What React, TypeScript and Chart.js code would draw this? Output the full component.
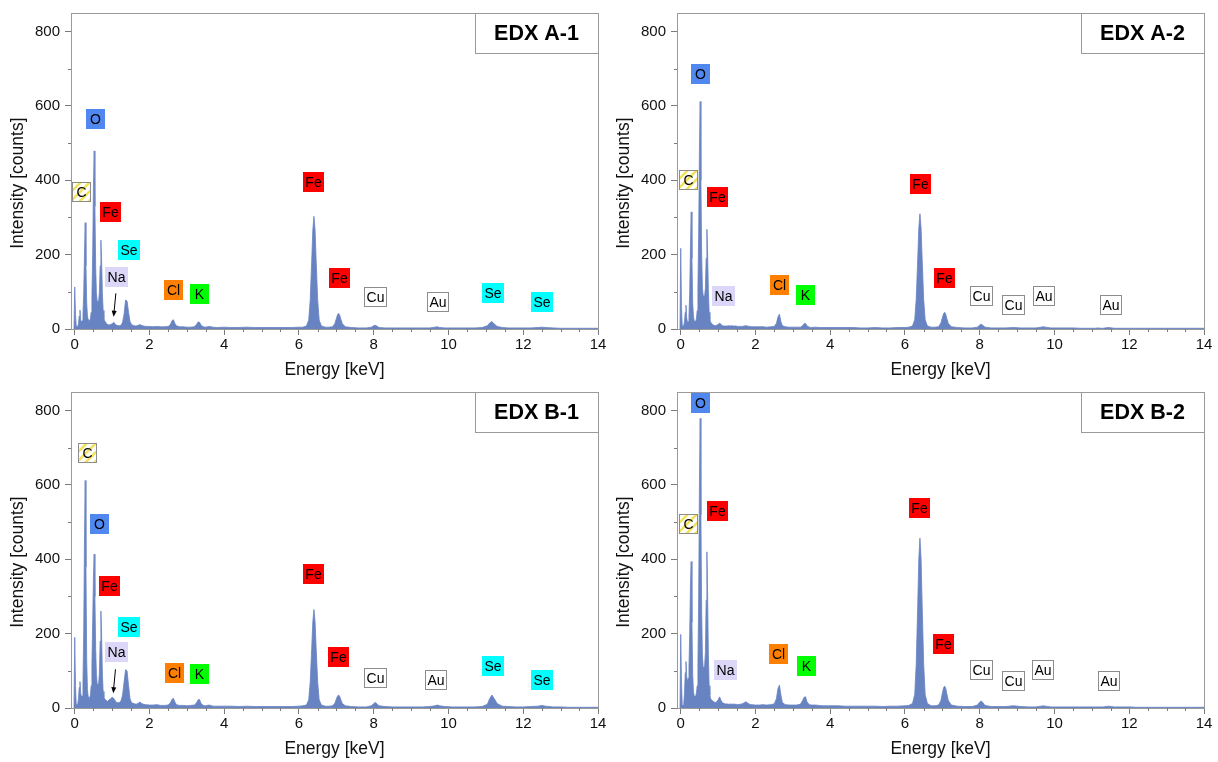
import React, { useEffect, useRef } from "react";
import { Chart, registerables } from "chart.js";

Chart.register(...registerables);

const FONT = '"Liberation Sans", Arial, Helvetica, sans-serif';

// Shared energy grid (keV)
const energyKeV = [
  -0.02, 0, 0.02, 0.04, 0.06, 0.08, 0.1, 0.12, 0.14, 0.16, 0.18,
  0.2, 0.22, 0.24, 0.26, 0.28, 0.3, 0.32, 0.34, 0.36, 0.38, 0.4,
  0.42, 0.44, 0.46, 0.48, 0.5, 0.52, 0.54, 0.56, 0.58, 0.6,
  0.62, 0.64, 0.66, 0.68, 0.7, 0.72, 0.74, 0.76, 0.78, 0.8,
  0.84, 0.88, 0.92, 0.96, 1.0, 1.04, 1.08, 1.12, 1.16, 1.2,
  1.24, 1.28, 1.32, 1.36, 1.4, 1.44, 1.48, 1.52, 1.58, 1.64,
  1.7, 1.74, 1.78, 1.84, 1.9, 2.0, 2.1, 2.2, 2.3, 2.4,
  2.5, 2.56, 2.6, 2.64, 2.68, 2.72, 2.8, 2.9, 3.0, 3.1,
  3.2, 3.26, 3.3, 3.34, 3.38, 3.44, 3.5, 3.6, 3.7, 3.8,
  4.0, 4.2, 4.4, 4.6, 4.8, 5.0, 5.2, 5.4, 5.6, 5.8, 6.0, 6.1,
  6.2, 6.26, 6.3, 6.34, 6.37, 6.4, 6.43, 6.46, 6.5, 6.54, 6.6,
  6.7, 6.8, 6.9, 6.96, 7.0, 7.03, 7.06, 7.09, 7.12, 7.16, 7.24,
  7.4, 7.6, 7.8, 7.94, 8.0, 8.04, 8.08, 8.14, 8.3, 8.5, 8.7,
  8.9, 9.1, 9.3, 9.5, 9.64, 9.7, 9.76, 9.9, 10.1, 10.3, 10.5, 10.7, 10.9,
  11.04, 11.1, 11.16, 11.22, 11.3, 11.44, 11.6, 11.8, 12.0, 12.2, 12.4,
  12.5, 12.6, 12.8, 13.0, 13.2, 13.4, 13.6, 13.8, 14.0,
];

const countsA1 = [
  0, 113, 40, 8, 4, 6, 15, 35, 51, 25, 18,
  22, 40, 95, 200, 286, 170, 70, 35, 25, 20, 22,
  28, 45, 90, 200, 380, 479, 330, 170, 95, 75,
  70, 75, 100, 170, 239, 180, 95, 50, 30, 22,
  16, 12, 11, 12, 14, 18, 14, 10, 9, 9,
  10, 18, 40, 78, 75, 45, 20, 12, 9, 8,
  10, 12, 10, 8, 7, 7, 6, 7, 6, 6,
  7, 12, 22, 25, 15, 9, 6, 6, 5, 5,
  6, 12, 19, 18, 10, 6, 5, 7, 5, 4,
  5, 4, 4, 5, 4, 4, 4, 4, 4, 4, 5, 5,
  8, 24, 78, 182, 266, 303, 266, 182, 78, 24, 8,
  5, 5, 6, 15, 28, 38, 42, 37, 26, 14, 6,
  4, 3, 3, 5, 9, 10, 8, 4, 3, 3, 3,
  3, 3, 3, 3, 5, 6, 4, 3, 3, 3, 3, 3, 4,
  9, 16, 20, 14, 7, 4, 3, 3, 3, 3, 4,
  5, 4, 3, 2, 2, 2, 2, 2, 2,
];

const countsA2 = [
  0, 217, 60, 10, 5, 8, 20, 45, 64, 30, 18,
  20, 35, 100, 220, 315, 190, 70, 35, 22, 18, 20,
  28, 50, 110, 260, 480, 612, 400, 200, 110, 90,
  85, 90, 110, 190, 268, 200, 100, 45, 25, 18,
  14, 10, 9, 10, 12, 16, 12, 9, 8, 8,
  8, 9, 8, 9, 8, 8, 8, 7, 7, 7,
  8, 9, 8, 7, 6, 6, 6, 6, 5, 6,
  7, 15, 32, 40, 20, 9, 6, 5, 5, 5,
  5, 9, 14, 15, 8, 5, 4, 5, 4, 4,
  4, 4, 4, 4, 3, 3, 4, 3, 3, 4, 4, 5,
  8, 25, 80, 187, 272, 310, 272, 187, 80, 25, 8,
  5, 5, 6, 16, 30, 41, 45, 40, 28, 15, 6,
  4, 3, 3, 5, 11, 13, 10, 5, 3, 3, 3,
  4, 3, 3, 3, 5, 6, 5, 3, 3, 3, 3, 2, 2,
  2, 2, 3, 2, 2, 4, 2, 2, 2, 2, 2,
  2, 2, 2, 2, 2, 2, 2, 2, 2,
];

const countsB1 = [
  0, 190, 60, 10, 6, 10, 25, 55, 71, 40, 30,
  32, 70, 200, 450, 612, 380, 130, 50, 30, 25, 27,
  35, 60, 120, 230, 350, 414, 300, 160, 90, 65,
  60, 65, 95, 180, 261, 190, 90, 45, 30, 25,
  20, 18, 22, 25, 29, 26, 20, 15, 14, 15,
  20, 35, 70, 103, 100, 60, 25, 14, 12, 10,
  13, 16, 13, 10, 9, 8, 8, 9, 7, 7,
  8, 14, 23, 26, 16, 9, 7, 7, 6, 7,
  8, 14, 22, 23, 12, 7, 6, 8, 5, 5,
  5, 5, 4, 5, 4, 4, 4, 4, 4, 4, 5, 6,
  8, 22, 70, 160, 232, 265, 232, 160, 70, 22, 8,
  5, 5, 6, 13, 24, 32, 35, 31, 22, 12, 6,
  4, 3, 3, 6, 12, 15, 12, 6, 4, 3, 3,
  3, 3, 3, 4, 6, 8, 6, 4, 3, 3, 3, 3, 4,
  10, 25, 35, 26, 12, 5, 4, 3, 3, 4, 5,
  7, 5, 3, 3, 2, 2, 2, 2, 2,
];

const countsB2 = [
  0, 198, 70, 8, 5, 10, 40, 95, 125, 85, 72,
  80, 110, 200, 330, 394, 230, 90, 45, 32, 30, 33,
  40, 60, 120, 300, 600, 779, 520, 260, 140, 110,
  105, 115, 150, 290, 420, 300, 140, 60, 35, 25,
  20, 17, 15, 16, 22, 30, 20, 14, 12, 11,
  11, 10, 11, 10, 11, 10, 10, 9, 10, 11,
  14, 17, 14, 10, 9, 8, 8, 9, 8, 9,
  11, 25, 52, 62, 35, 14, 9, 8, 8, 8,
  10, 20, 29, 30, 16, 9, 8, 8, 7, 6,
  6, 6, 5, 5, 5, 5, 5, 4, 5, 5, 6, 7,
  12, 36, 118, 275, 402, 457, 402, 275, 118, 36, 12,
  6, 6, 8, 20, 40, 54, 59, 53, 38, 20, 8,
  5, 4, 4, 8, 16, 19, 15, 7, 4, 4, 4,
  6, 4, 3, 3, 5, 6, 5, 3, 3, 3, 3, 3, 3,
  3, 3, 3, 3, 3, 5, 3, 3, 3, 2, 2,
  2, 2, 2, 2, 2, 2, 2, 2, 2,
];

const xTickValues = [0, 2, 4, 6, 8, 10, 12, 14];
const yTickValues = [0, 200, 400, 600, 800];

type Label = { text: string; x: number; y: number };
type Arrow = { x1: number; y1: number; x2: number; y2: number } | null;

// element labels: text, energy (keV), counts
const labelsA1: Label[] = [
  { text: "O", x: 0.55, y: 566 },
  { text: "C", x: 0.18, y: 368 },
  { text: "Fe", x: 0.95, y: 315 },
  { text: "Se", x: 1.46, y: 212 },
  { text: "Na", x: 1.13, y: 140 },
  { text: "Cl", x: 2.63, y: 105 },
  { text: "K", x: 3.33, y: 95 },
  { text: "Fe", x: 6.4, y: 395 },
  { text: "Fe", x: 7.09, y: 137 },
  { text: "Cu", x: 8.06, y: 87 },
  { text: "Au", x: 9.73, y: 73 },
  { text: "Se", x: 11.19, y: 97 },
  { text: "Se", x: 12.51, y: 73 },
];
const arrowA1: Arrow = { x1: 1.1, y1: 96, x2: 1.04, y2: 33 };

const labelsA2: Label[] = [
  { text: "O", x: 0.52, y: 685 },
  { text: "C", x: 0.2, y: 401 },
  { text: "Fe", x: 0.98, y: 355 },
  { text: "Na", x: 1.14, y: 89 },
  { text: "Cl", x: 2.65, y: 119 },
  { text: "K", x: 3.35, y: 92 },
  { text: "Fe", x: 6.41, y: 390 },
  { text: "Fe", x: 7.06, y: 136 },
  { text: "Cu", x: 8.06, y: 90 },
  { text: "Cu", x: 8.91, y: 64 },
  { text: "Au", x: 9.72, y: 90 },
  { text: "Au", x: 11.51, y: 64 },
];
const arrowA2: Arrow = null;

const labelsB1: Label[] = [
  { text: "C", x: 0.33, y: 686 },
  { text: "O", x: 0.67, y: 494 },
  { text: "Fe", x: 0.93, y: 327 },
  { text: "Se", x: 1.46, y: 219 },
  { text: "Na", x: 1.12, y: 150 },
  { text: "Cl", x: 2.66, y: 93 },
  { text: "K", x: 3.34, y: 91 },
  { text: "Fe", x: 6.4, y: 360 },
  { text: "Fe", x: 7.06, y: 136 },
  { text: "Cu", x: 8.05, y: 82 },
  { text: "Au", x: 9.67, y: 74 },
  { text: "Se", x: 11.19, y: 112 },
  { text: "Se", x: 12.49, y: 74 },
];
const arrowB1: Arrow = { x1: 1.09, y1: 104, x2: 1.03, y2: 40 };

const labelsB2: Label[] = [
  { text: "O", x: 0.53, y: 820 },
  { text: "Fe", x: 0.98, y: 531 },
  { text: "C", x: 0.2, y: 494 },
  { text: "Na", x: 1.19, y: 103 },
  { text: "Cl", x: 2.62, y: 144 },
  { text: "K", x: 3.36, y: 113 },
  { text: "Fe", x: 6.39, y: 539 },
  { text: "Fe", x: 7.04, y: 173 },
  { text: "Cu", x: 8.04, y: 101 },
  { text: "Cu", x: 8.91, y: 73 },
  { text: "Au", x: 9.69, y: 102 },
  { text: "Au", x: 11.47, y: 73 },
];
const arrowB2: Arrow = null;

const LABEL_FILL: Record<string, string> = {
  O: "#5088f0",
  Fe: "#ff0000",
  Se: "#00ffff",
  Na: "#dcd6f8",
  Cl: "#ff8000",
  K: "#00ff00",
  C: "hatch",
  Cu: "#ffffff",
  Au: "#ffffff",
};

const SPECTRUM_COLOR = "#6883c2";
const FRAME_COLOR = "#9a9a9a";
const TICK_COLOR = "#7a7a7a";

type PanelDef = {
  title: string;
  counts: number[];
  labels: Label[];
  arrow: Arrow;
  left: number;
  top: number;
};

const PANELS: PanelDef[] = [
  { title: "EDX A-1", counts: countsA1, labels: labelsA1, arrow: arrowA1, left: 0, top: 0 },
  { title: "EDX A-2", counts: countsA2, labels: labelsA2, arrow: arrowA2, left: 606, top: 0 },
  { title: "EDX B-1", counts: countsB1, labels: labelsB1, arrow: arrowB1, left: 0, top: 379 },
  { title: "EDX B-2", counts: countsB2, labels: labelsB2, arrow: arrowB2, left: 606, top: 379 },
];

function makeDecorPlugin(panel: PanelDef) {
  return {
    id: "edxDecor",
    afterDatasetsDraw(chart: any) {
      const { ctx, chartArea: a, scales } = chart;
      const xs = scales.x;
      const ys = scales.y;
      ctx.save();

      // labels
      ctx.font = `14px ${FONT}`;
      for (const lb of panel.labels) {
        const cx = xs.getPixelForValue(lb.x);
        const cy = ys.getPixelForValue(lb.y);
        const tw = ctx.measureText(lb.text).width;
        const w = Math.round(Math.max(tw + 5, 19));
        const h = 20;
        const x0 = Math.round(cx - w / 2);
        const y0 = Math.round(cy - h / 2);
        const fill = LABEL_FILL[lb.text] || "#ffffff";
        if (fill === "hatch") {
          ctx.fillStyle = "#ffffff";
          ctx.fillRect(x0, y0, w, h);
          ctx.save();
          ctx.beginPath();
          ctx.rect(x0, y0, w, h);
          ctx.clip();
          ctx.strokeStyle = "#f2e35a";
          ctx.lineWidth = 2.5;
          for (let k = -h; k < w + h; k += 9) {
            ctx.beginPath();
            ctx.moveTo(x0 + k, y0 + h);
            ctx.lineTo(x0 + k + h, y0);
            ctx.stroke();
          }
          ctx.restore();
          ctx.strokeStyle = "#8c8c8c";
          ctx.lineWidth = 1;
          ctx.strokeRect(x0 + 0.5, y0 + 0.5, w - 1, h - 1);
        } else {
          ctx.fillStyle = fill;
          ctx.fillRect(x0, y0, w, h);
          if (fill === "#ffffff") {
            ctx.strokeStyle = "#8c8c8c";
            ctx.lineWidth = 1;
            ctx.strokeRect(x0 + 0.5, y0 + 0.5, w - 1, h - 1);
          }
        }
        ctx.fillStyle = "#000000";
        ctx.textAlign = "center";
        ctx.textBaseline = "middle";
        ctx.fillText(lb.text, x0 + w / 2, y0 + h / 2 + 1);
      }

      // arrow
      if (panel.arrow) {
        const p1x = xs.getPixelForValue(panel.arrow.x1);
        const p1y = ys.getPixelForValue(panel.arrow.y1);
        const p2x = xs.getPixelForValue(panel.arrow.x2);
        const p2y = ys.getPixelForValue(panel.arrow.y2);
        const ang = Math.atan2(p2y - p1y, p2x - p1x);
        const hl = 6;
        ctx.strokeStyle = "#000";
        ctx.lineWidth = 1;
        ctx.beginPath();
        ctx.moveTo(p1x, p1y);
        ctx.lineTo(p2x - Math.cos(ang) * hl * 0.8, p2y - Math.sin(ang) * hl * 0.8);
        ctx.stroke();
        ctx.fillStyle = "#000";
        ctx.beginPath();
        ctx.moveTo(p2x, p2y);
        ctx.lineTo(p2x - Math.cos(ang) * hl + Math.sin(ang) * 2.5, p2y - Math.sin(ang) * hl - Math.cos(ang) * 2.5);
        ctx.lineTo(p2x - Math.cos(ang) * hl - Math.sin(ang) * 2.5, p2y - Math.sin(ang) * hl + Math.cos(ang) * 2.5);
        ctx.closePath();
        ctx.fill();
      }

      // minor ticks
      ctx.strokeStyle = TICK_COLOR;
      ctx.lineWidth = 1;
      ctx.beginPath();
      for (let v = 0.5; v < 14; v += 0.5) {
        if (Math.abs(v / 2 - Math.round(v / 2)) < 1e-6) continue;
        const px = Math.round(xs.getPixelForValue(v)) + 0.5;
        ctx.moveTo(px, a.bottom);
        ctx.lineTo(px, a.bottom + 3);
      }
      for (let v = 100; v < 850; v += 200) {
        const py = Math.round(ys.getPixelForValue(v)) + 0.5;
        ctx.moveTo(a.left - 3, py);
        ctx.lineTo(a.left, py);
      }
      ctx.stroke();

      // frame (top, right)
      ctx.strokeStyle = FRAME_COLOR;
      ctx.beginPath();
      ctx.moveTo(Math.round(a.left) + 0.5, Math.round(a.top) + 0.5);
      ctx.lineTo(Math.round(a.right) + 0.5, Math.round(a.top) + 0.5);
      ctx.lineTo(Math.round(a.right) + 0.5, Math.round(a.bottom) + 0.5);
      ctx.stroke();

      // title box
      const bw = 123;
      const bh = 40;
      const bx = Math.round(a.right) - bw;
      const by = Math.round(a.top);
      ctx.fillStyle = "#ffffff";
      ctx.fillRect(bx, by, bw, bh);
      ctx.strokeStyle = FRAME_COLOR;
      ctx.strokeRect(bx + 0.5, by + 0.5, bw, bh);
      ctx.fillStyle = "#000000";
      ctx.font = `bold 21.5px ${FONT}`;
      ctx.textAlign = "center";
      ctx.textBaseline = "middle";
      ctx.fillText(panel.title, bx + bw / 2, by + bh / 2 + 1);

      ctx.restore();
    },
  };
}

function Panel({ panel }: { panel: PanelDef }) {
  const ref = useRef<HTMLCanvasElement | null>(null);
  useEffect(() => {
    if (!ref.current) return;
    const points = energyKeV.map((e, i) => ({ x: e, y: panel.counts[i] }));
    const chart = new Chart(ref.current, {
      type: "line",
      data: {
        datasets: [
          {
            data: points,
            fill: "origin",
            borderColor: SPECTRUM_COLOR,
            backgroundColor: SPECTRUM_COLOR,
            borderWidth: 0.8,
            pointRadius: 0,
            tension: 0,
          },
        ],
      },
      options: {
        animation: false,
        responsive: false,
        devicePixelRatio: 1,
        events: [],
        layout: { padding: { left: 0, right: 8, top: 13, bottom: 0 } },
        plugins: {
          legend: { display: false },
          tooltip: { enabled: false },
          title: { display: false },
        },
        scales: {
          x: {
            type: "linear",
            min: -0.1,
            max: 14,
            afterBuildTicks: (s: any) => {
              s.ticks = xTickValues.map((v) => ({ value: v }));
            },
            ticks: {
              autoSkip: false,
              maxRotation: 0,
              padding: 1,
              color: "#111",
              font: { family: FONT, size: 15 },
            },
            grid: {
              drawOnChartArea: false,
              drawTicks: true,
              tickLength: 6,
              tickColor: TICK_COLOR,
            },
            border: { display: true, color: FRAME_COLOR, width: 1 },
            title: {
              display: true,
              text: "Energy [keV]",
              color: "#111",
              font: { family: FONT, size: 17.5, lineHeight: 1 },
              padding: 0,
            },
            afterFit: (s: any) => {
              s.height = 50;
              s.paddingLeft = 0;
              s.paddingRight = 0;
            },
          },
          y: {
            type: "linear",
            min: 0,
            max: 850,
            afterBuildTicks: (s: any) => {
              s.ticks = yTickValues.map((v) => ({ value: v }));
            },
            ticks: {
              autoSkip: false,
              padding: 5,
              color: "#111",
              font: { family: FONT, size: 15 },
            },
            grid: {
              drawOnChartArea: false,
              drawTicks: true,
              tickLength: 6,
              tickColor: TICK_COLOR,
            },
            border: { display: true, color: FRAME_COLOR, width: 1 },
            title: {
              display: true,
              text: "Intensity [counts]     ",
              color: "#111",
              font: { family: FONT, size: 17.5, lineHeight: 1.2 },
              padding: { top: 8, bottom: 0 },
            },
            afterFit: (s: any) => {
              s.width = 71;
              s.paddingTop = 0;
              s.paddingBottom = 0;
            },
          },
        },
      },
      plugins: [makeDecorPlugin(panel)],
    } as any);
    return () => chart.destroy();
  }, [panel]);
  return (
    <canvas
      ref={ref}
      width={606}
      height={379}
      style={{ position: "absolute", left: panel.left, top: panel.top, width: 606, height: 379 }}
    />
  );
}

export default function App() {
  return (
    <div
      style={{
        position: "absolute",
        left: 0,
        top: 0,
        width: 1218,
        height: 762,
        background: "#ffffff",
        fontFamily: FONT,
      }}
    >
      {PANELS.map((p) => (
        <Panel key={p.title} panel={p} />
      ))}
    </div>
  );
}
